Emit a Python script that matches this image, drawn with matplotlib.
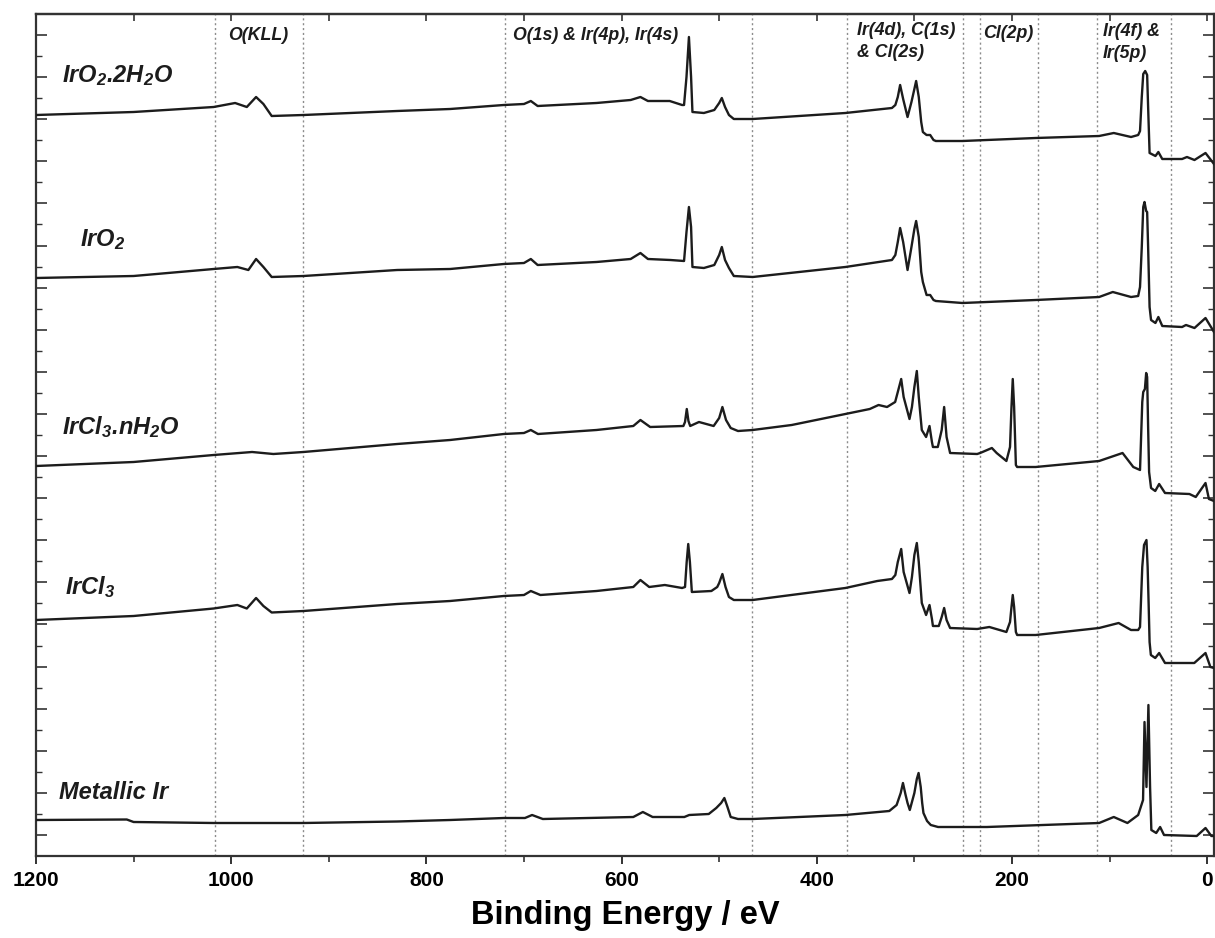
import matplotlib
matplotlib.use("Agg")
import matplotlib.pyplot as plt
from matplotlib.ticker import FixedLocator, MultipleLocator, NullFormatter

plt.rcParams['font.family'] = ['Liberation Sans', 'DejaVu Sans']
plt.rcParams['mathtext.fontset'] = 'custom'
plt.rcParams['mathtext.rm'] = 'Liberation Sans:italic:bold'
plt.rcParams['mathtext.it'] = 'Liberation Sans:italic:bold'
plt.rcParams['mathtext.bf'] = 'Liberation Sans:italic:bold'

# ---------------- data (binding energy / eV, intensity / arb. units) ----------------
e_iro2_2h2o = [1200, 1100, 1018, 996, 984, 974.5, 967, 958.5, 926, 830, 775.7, 720.7, 700, 693, 686,
               625.7, 590.7, 580.7, 573, 550.7, 538, 536, 533.5, 531, 528.8, 527.4, 515.7, 505, 500,
               497.3, 494, 490, 485, 465.7, 370.7, 323, 319.5, 317, 314.6, 311.5, 307, 303, 300,
               298.2, 295.5, 293, 291.3, 287.5, 283.8, 280.4, 278, 250.7, 175.7, 110.7, 95.7, 78,
               70.7, 68.8, 67, 65.5, 63.5, 61.5, 60.5, 59, 53, 50, 46, 25.7, 20.7, 13, 1.7, -7]
i_iro2_2h2o = [752, 755, 760, 764, 760, 770, 763, 751, 752, 756, 758, 762, 763, 766, 761,
               764, 767, 770, 766, 766, 762, 762, 790, 830, 790, 755, 754, 757, 764,
               769, 760, 752, 748, 748, 754, 759, 762, 770, 782, 768, 750, 765, 778,
               786, 770, 745, 735, 732, 732, 727, 726, 726, 729, 731, 734, 730,
               732, 736, 770, 793, 796, 792, 760, 714, 711, 715, 708, 708, 710, 707, 714, 703]

e_iro2 = [1200, 1100, 1018, 993.7, 982.4, 974.5, 967, 958.5, 926, 830, 775.7, 720.7, 700, 693, 686,
          625.7, 590.7, 580.7, 573, 550, 536, 533.5, 531, 528.8, 527.4, 515.7, 505, 500, 497.3,
          494, 490, 485, 465.7, 370.7, 323, 319.5, 317, 314.6, 311.5, 307, 303, 300, 298.2,
          295.5, 293, 291.3, 287.5, 283.8, 280.4, 278, 250.7, 175.7, 110.7, 96.7, 78, 70.7,
          68.8, 67, 65.5, 64.2, 62.5, 61.5, 60.5, 59, 57.5, 53, 50, 46, 25.7, 21.7, 13, 1.7, -7]
i_iro2 = [589, 591, 598, 600, 597, 608, 600, 590, 591, 597, 598, 603, 604, 608, 602,
          605, 608, 614, 608, 607, 606, 635, 660, 640, 600, 599, 602, 612, 620,
          607, 599, 591, 590, 600, 607, 612, 625, 639, 625, 597, 620, 638, 646,
          630, 595, 585, 572, 572, 567, 566, 564, 567, 570, 575, 570, 571,
          580, 620, 660, 665, 656, 655, 620, 560, 547, 544, 550, 541, 540, 542, 539, 549, 535]

e_ircl3_nh2o = [1200, 1100, 1018, 978.6, 956.8, 926, 830, 775.7, 720.7, 700, 693, 685.7, 625.7, 588,
                580.7, 570.7, 536.7, 535, 533.2, 531.5, 529.7, 520.7, 505.7, 500, 496.7, 493, 488.2,
                480.7, 465.7, 425.7, 370.7, 345.7, 336.7, 328, 319.7, 317, 313.5, 311, 305, 302.5,
                300, 297.5, 295.5, 292.4, 288, 284.5, 282, 281, 276, 272, 269.5, 267, 263.4,
                235.7, 232.6, 220.6, 215.7, 205.7, 202, 200.5, 199.2, 197.8, 196, 194.7, 175.7,
                110.7, 86.7, 75.7, 68.8, 66.5, 65.5, 63.8, 62.5, 61.5, 60.5, 59.5, 57.5, 53.2, 49.2,
                43.2, 18.2, 11.7, 1.7, -1.8, -7]
i_ircl3_nh2o = [401, 405, 412, 415, 413, 415, 423, 427, 433, 434, 437, 433, 437, 441,
                447, 440, 441, 445, 458, 446, 441, 445, 441, 449, 460, 447, 439,
                436, 437, 442, 453, 458, 462, 460, 465, 475, 488, 470, 448, 460,
                480, 496, 470, 437, 430, 441, 425, 420, 420, 437, 460, 430, 414,
                413, 414, 419, 414, 406, 420, 460, 488, 460, 402, 400, 400,
                406, 414, 400, 397, 465, 475, 478, 494, 490, 440, 395, 379, 376, 383,
                374, 373, 370, 384, 368, 366]

e_ircl3 = [1200, 1100, 1018, 993.7, 984, 974.5, 967, 958.5, 926, 830, 775.7, 720.7, 700, 693, 683.2,
           625.7, 588, 580.7, 571.7, 555.7, 538, 535, 533.3, 531.7, 530, 528, 508, 502, 500,
           496.7, 493.5, 490, 485, 465.7, 370.7, 338, 323, 319.5, 317, 313.5, 311, 305, 302.5,
           300, 297.5, 295.5, 292.4, 288, 284.5, 282, 281, 275, 272, 269.5, 267, 263.4, 235.7,
           223.2, 205.7, 202, 200.5, 199.2, 197.8, 196, 194.7, 175.7, 110.7, 90.7, 78, 70.7,
           68.8, 66.5, 64.7, 62.2, 61, 60, 59, 57.7, 53.2, 49.2, 43.2, 13.2, 1.7, -3.3, -7]
i_ircl3 = [247, 251, 258.5, 262, 258.5, 269, 261, 254.5, 256, 263, 266, 271, 272, 276, 272,
           276, 280, 287, 280, 282, 279, 280, 305, 323, 305, 275, 276, 280, 284,
           293, 280, 270, 267, 267, 279, 286, 288, 292, 305, 318, 295, 274, 290,
           312, 324, 305, 264, 252, 262, 248, 241, 241, 250, 259, 247, 239, 238,
           240, 235, 245, 260, 272, 260, 235, 232, 232, 239, 244, 237, 237,
           240, 300, 322, 327, 300, 264, 225, 212, 209, 214, 204, 204, 214, 200, 199]

e_metal = [1200, 1107, 1100, 1018, 926, 830, 775.7, 720.7, 699, 691.7, 680.7, 588, 578.2, 568.2,
           535.7, 530.7, 510.7, 503, 498, 494.7, 491.5, 488.2, 480.7, 465.7, 370.7, 325.7, 318.2,
           314, 311.7, 309, 307, 304.7, 300, 297.5, 295.7, 293.5, 292, 290.7, 287, 283.2, 275.7,
           225.7, 110.7, 95.7, 81.7, 70.7, 65.7, 64.2, 62.2, 60.2, 58.5, 57.2, 52.2, 48.2, 44.2,
           10.7, 1.7, -4.3, -7]
i_metal = [47, 47.5, 45, 44, 44, 45.5, 47, 49, 49, 52, 48, 50, 55, 50,
           50, 52, 53, 59, 64, 69, 60, 50, 48, 48, 52, 56, 62,
           74, 84, 72, 64, 57, 74, 88, 94, 80, 64, 54, 46, 42, 40,
           40, 44, 50, 44, 52, 67, 145, 80, 162, 80, 37, 34, 40, 32,
           31, 39, 31, 31]

spectra = [(e_iro2_2h2o, i_iro2_2h2o), (e_iro2, i_iro2), (e_ircl3_nh2o, i_ircl3_nh2o),
           (e_ircl3, i_ircl3), (e_metal, i_metal)]

sample_labels = [r'IrO$_2$.2H$_2$O', r'IrO$_2$', r'IrCl$_3$.nH$_2$O', r'IrCl$_3$', 'Metallic Ir']
sample_label_pos = [(62, 82), (80, 246), (62, 434), (65, 594), (59, 799)]

ref_lines = [1017, 926, 719, 466, 369, 250, 233, 173, 113, 37]

peak_labels = ['O(KLL)', 'O(1s) & Ir(4p), Ir(4s)', 'Ir(4d), C(1s)\n& Cl(2s)', 'Cl(2p)', 'Ir(4f) &\nIr(5p)']
peak_label_pos = [(228, 40), (513, 40), (857, 57), (983, 38), (1103, 58)]

xticks_major = [0, 200, 400, 600, 800, 1000, 1200]

# ---------------- figure ----------------
W, H = 1215, 938
fig = plt.figure(figsize=(W / 100, H / 100), dpi=100)
ax = fig.add_axes([36 / W, (H - 856) / H, 1178 / W, 842 / H])

for e in ref_lines:
    ax.axvline(e, color='#8c8c8c', lw=1.0, ls=(0, (1.5, 2.0)), zorder=1)

for e, i in spectra:
    ax.plot(e, i, color='#1c1c1c', lw=1.7, solid_joinstyle='round', zorder=3)

ax.set_xlim(1200, -7)
y0, y1 = 11, 853
ax.set_ylim(y0, y1)
step = (y1 - y0) / 40.0
ax.yaxis.set_major_locator(FixedLocator([y1 - step * k for k in range(1, 40, 2)]))
ax.yaxis.set_minor_locator(FixedLocator([y1 - step * k for k in range(2, 40, 2)]))
ax.yaxis.set_major_formatter(NullFormatter())
ax.tick_params(axis='y', which='both', direction='in', left=True, right=True,
               labelleft=False, color='#333333')
ax.tick_params(axis='y', which='major', length=8, width=1.2)
ax.tick_params(axis='y', which='minor', length=4, width=1.0)

ax.xaxis.set_major_locator(FixedLocator(xticks_major))
ax.xaxis.set_minor_locator(MultipleLocator(100))
ax.tick_params(axis='x', which='both', direction='out', top=False, bottom=True, color='#333333')
ax.tick_params(axis='x', which='major', length=6, width=1.4, pad=5)
ax.tick_params(axis='x', which='minor', length=4, width=1.2)
for lab in ax.get_xticklabels():
    lab.set_fontsize(15)
    lab.set_fontweight('bold')

sec = ax.secondary_xaxis('top')
sec.xaxis.set_major_locator(MultipleLocator(100))
sec.xaxis.set_major_formatter(NullFormatter())
sec.tick_params(axis='x', direction='in', length=5, width=1.2, color='#333333')
sec.spines['top'].set_linewidth(1.6)
sec.spines['top'].set_color('#333333')

for sp in ax.spines.values():
    sp.set_linewidth(1.6)
    sp.set_color('#333333')

ax.set_xlabel('Binding Energy / eV', fontsize=23.5, fontweight='bold', labelpad=7)


def fpos(x, y):
    return x / W, 1 - y / H


for s, (x, y) in zip(sample_labels, sample_label_pos):
    fx, fy = fpos(x, y)
    fig.text(fx, fy, s, fontsize=17, fontweight='bold', fontstyle='italic',
             ha='left', va='baseline', color='#1c1c1c')

for s, (x, y) in zip(peak_labels, peak_label_pos):
    fx, fy = fpos(x, y)
    fig.text(fx, fy, s, fontsize=12.8, fontweight='bold', fontstyle='italic',
             ha='left', va='baseline', linespacing=1.38, color='#1c1c1c',
             multialignment='left')

fig.savefig('out.png', dpi=100)
